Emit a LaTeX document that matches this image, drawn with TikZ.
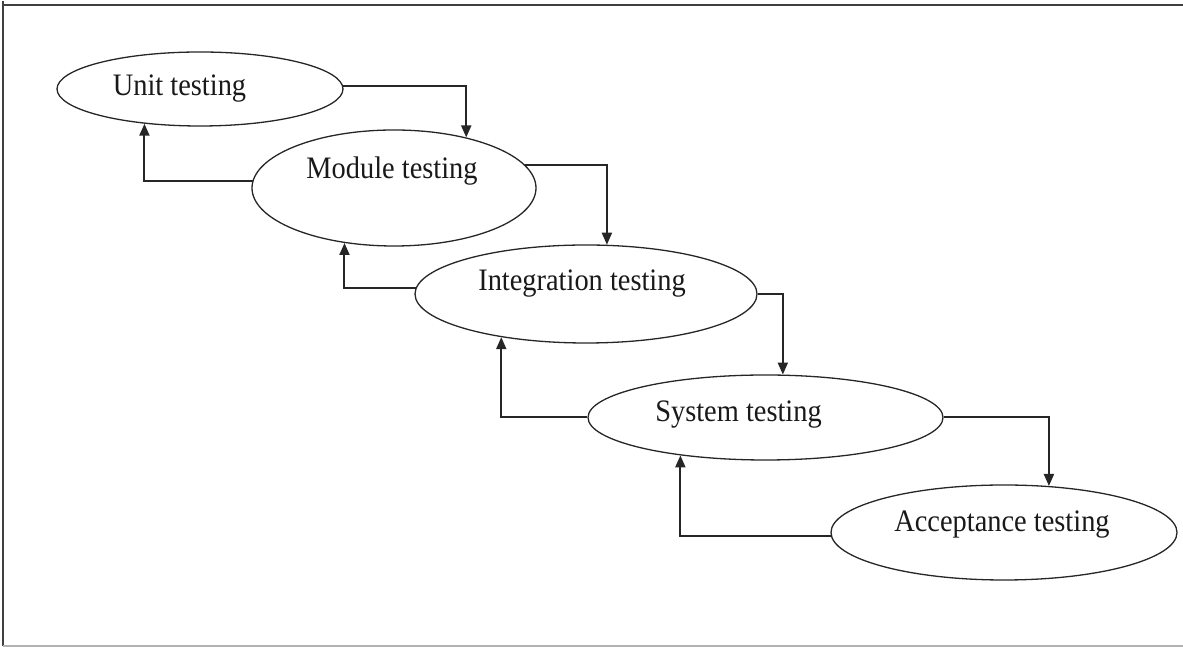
\documentclass[tikz,border=0pt]{standalone}
\usepackage{fontspec}
\setmainfont{Liberation Serif}
\usetikzlibrary{arrows.meta,shapes.geometric}
\newcommand{\tallfont}[1]{\scalebox{1}[1.1]{#1}}
\begin{document}
\begin{tikzpicture}[x=1pt,y=1pt,
  stage/.style={draw=black!85,line width=1.3pt,ellipse,inner sep=0pt},
  lbl/.style={anchor=base,inner sep=0pt,text=black!90,font=\fontsize{28.4}{34}\selectfont},
  conn/.style={draw=black!85,line width=2pt,-{Triangle[length=12pt,width=10pt]}}]
\useasboundingbox (0,0) rectangle (1183,647);
% frame
\draw[line width=2.2pt,black!75] (3,646) -- (3,1);
\draw[line width=2.2pt,black!75] (2,642) -- (1183,642);
\draw[line width=1.5pt,black!30] (3,1) -- (1183,1);
% stages
\node[stage,minimum width=286pt,minimum height=74pt] (unit) at (200,558) {};
\node[stage,minimum width=284pt,minimum height=116pt] (mod) at (394,459) {};
\node[stage,minimum width=342pt,minimum height=98pt] (int) at (586,353) {};
\node[stage,minimum width=355pt,minimum height=85pt] (sys) at (765.5,229.5) {};
\node[stage,minimum width=346pt,minimum height=95pt] (acc) at (1004,114.5) {};
% labels
\node[lbl] (tunit) at (179.5,551) {\tallfont{Unit testing}};
\node[lbl] (tmod) at (392,468) {\tallfont{Module testing}};
\node[lbl] (tint) at (582,356) {\tallfont{Integration testing}};
\node[lbl] (tsys) at (738.5,225.3) {\tallfont{System testing}};
\node[lbl] (tacc) at (1002,115.3) {\tallfont{Acceptance testing}};
% forward connectors
\draw[conn] (unit.1) -| (mod.35.3);
\draw[conn] (mod.10) -| (int.67);
\draw[conn] (int.east) -| (sys.68);
\draw[conn] (sys.east) -| (acc.46);
% backward connectors
\draw[conn] (mod.177.4) -| (unit.212);
\draw[conn] (int.178.7) -| (mod.228);
\draw[conn] (sys.west) -| (int.207);
\draw[conn] (acc.181.2) -| (sys.204);
\end{tikzpicture}
\end{document}
